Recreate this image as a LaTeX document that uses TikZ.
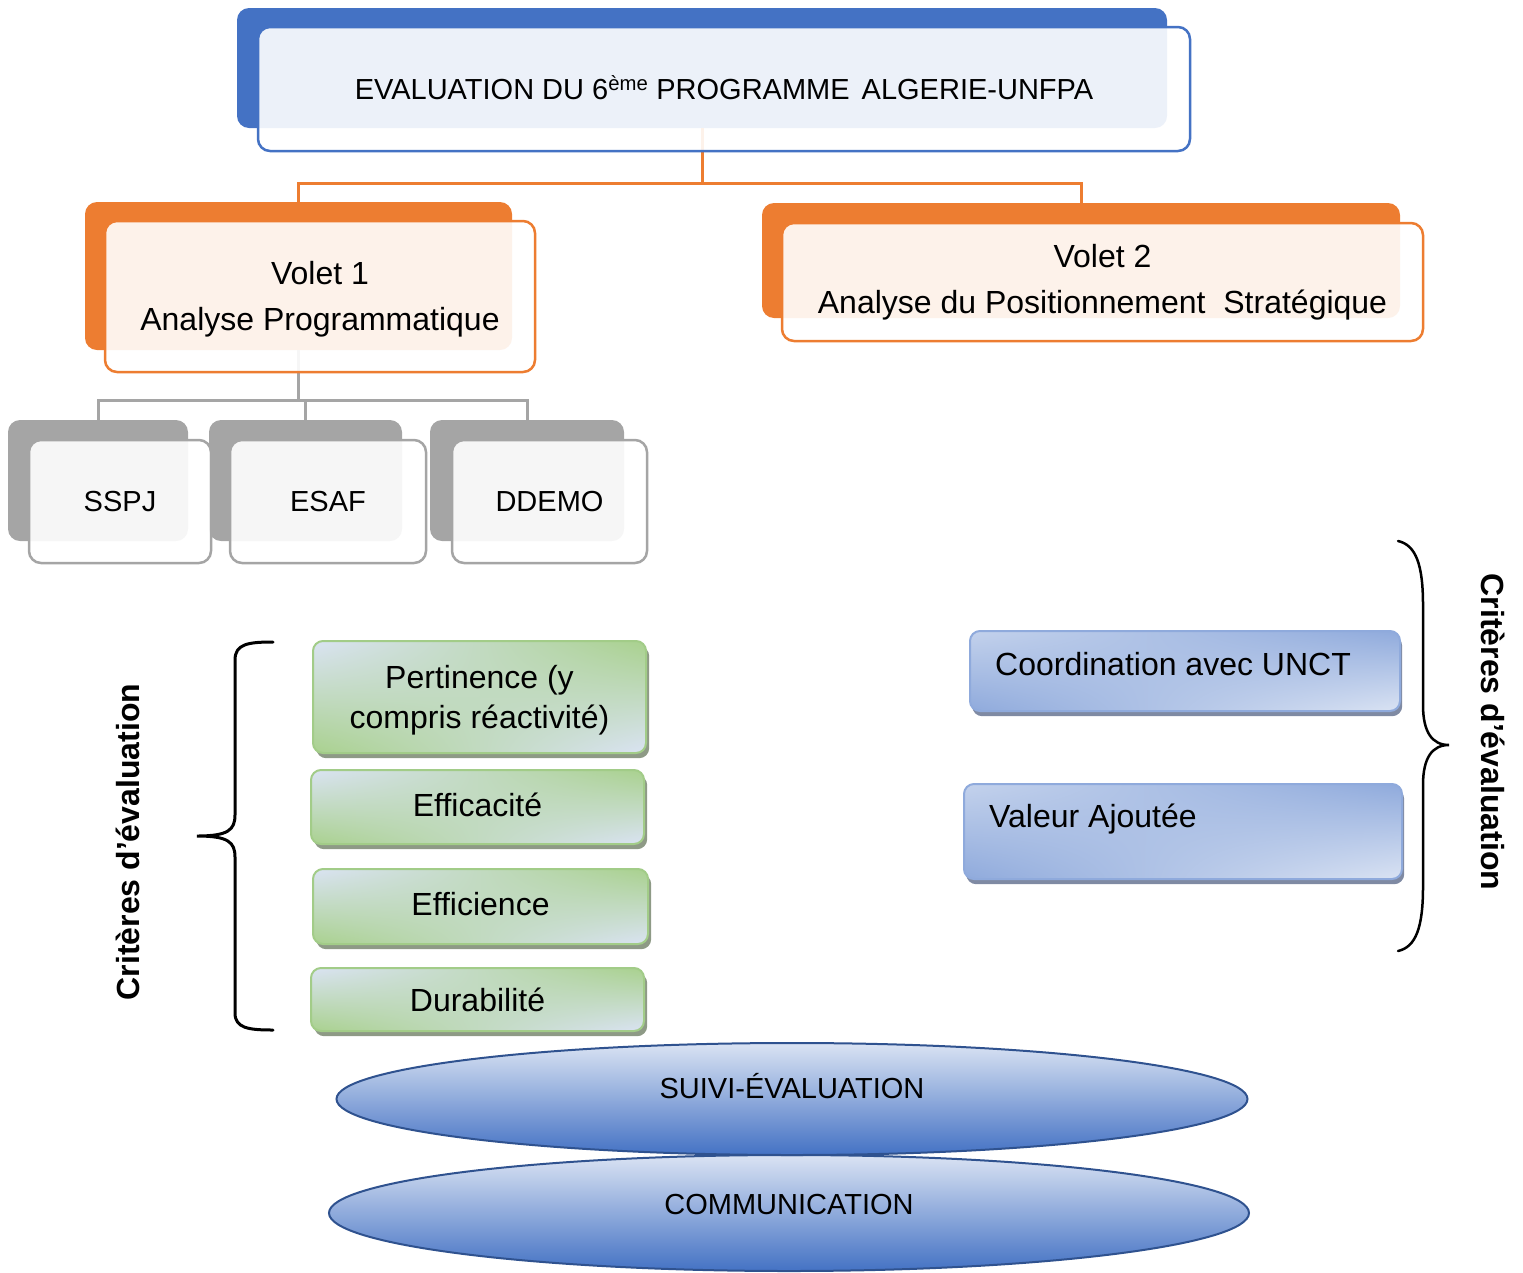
\documentclass[tikz,border=0pt]{standalone}
\usepackage{fontspec}
\setmainfont{Liberation Sans}
\usetikzlibrary{shapes.geometric,shadings}
\definecolor{cblue}{HTML}{4472C4}
\definecolor{corange}{HTML}{ED7D31}
\definecolor{cgray}{HTML}{A5A5A5}
\definecolor{cgreen}{HTML}{A9D18E}
\definecolor{cgreenline}{HTML}{A2CC88}
\definecolor{clight}{HTML}{DAE3F3}
\definecolor{cmidblue}{HTML}{8FAADC}
\definecolor{cmid}{HTML}{B8C8E9}
\definecolor{cnavy}{HTML}{2F528F}
\definecolor{gshadow}{HTML}{8E9A86}
\definecolor{bshadow}{HTML}{7F8AA3}
\newcommand\fsA{\fontsize{29}{35}\selectfont}
\newcommand\fsB{\fontsize{32}{40}\selectfont}
\newcommand\fsV{\fontsize{32}{46}\selectfont}
\begin{document}
\begin{tikzpicture}[x=1pt,y=-1pt,
  backbox/.style={fill=#1, rounded corners=12pt, inner sep=0pt, outer sep=0pt, anchor=north west},
  frontbox/.style={draw=#1, line width=2.5pt, fill=white, fill opacity=0.9, text opacity=1,
    rounded corners=12pt, inner sep=0pt, outer sep=0pt, anchor=north west, align=center},
  shadowbox/.style={fill=#1, rounded corners=10pt, inner sep=0pt, anchor=north west},
  greenbox/.style={upper left=clight, lower right=clight, upper right=cgreen, lower left=cgreen,
    draw=cgreenline, line width=2pt, rounded corners=10pt, inner sep=0pt, anchor=north west,
    align=center, font=\fsB},
  bluebox/.style={upper left=clight!70!cmidblue, lower right=clight, upper right=cmidblue, lower left=cmidblue,
    draw=cmidblue, line width=2pt, rounded corners=10pt, inner sep=0pt, anchor=north west},
  oval/.style={ellipse, draw=cnavy, line width=2pt, top color=clight, middle color=cmid,
    bottom color=cblue, inner sep=0pt},
  oline/.style={draw=corange, line width=3pt},
  gline/.style={draw=cgray, line width=3pt},
  brace/.style={draw=black, line width=3pt, line cap=round}
]
\useasboundingbox (0,0) rectangle (1523,1272);

% back boxes
\node[backbox=cblue, minimum width=930, minimum height=120] (topb) at (237,8) {};
\node[backbox=corange, minimum width=427, minimum height=148] (v1b) at (85,202) {};
\node[backbox=corange, minimum width=638, minimum height=115] (v2b) at (762,203) {};
\node[backbox=cgray, minimum width=180, minimum height=121] (g1b) at (8,420) {};
\node[backbox=cgray, minimum width=193, minimum height=121] (g2b) at (209,420) {};
\node[backbox=cgray, minimum width=194, minimum height=121] (g3b) at (430,420) {};

% connectors
\draw[oline] (topb.south) -- ++(0,55) coordinate (j1);
\draw[oline] (j1) -| (v1b.north);
\draw[oline] (j1) -| (v2b.north);
\draw[gline] (v1b.south) -- ++(0,50) coordinate (j2);
\draw[gline] (j2) -| (g1b.north);
\draw[gline] (j2) -| (g2b.north);
\draw[gline] (j2) -| (g3b.north);

% front boxes
\node[frontbox=cblue, minimum width=932, minimum height=124, font=\fsA] (top) at (258,27)
  {\raisebox{1pt}[\height][\depth]{EVALUATION DU 6\textsuperscript{ème} PROGRAMME\hspace{12pt}ALGERIE-UNFPA}};
\node[frontbox=corange, minimum width=430, minimum height=151, font=\fsV] (v1) at (105,221)
  {\raisebox{-2pt}[\height][\depth]{\begin{tabular}{@{}c@{}}Volet 1\\Analyse Programmatique\end{tabular}}};
\node[frontbox=corange, minimum width=641, minimum height=118, font=\fsV] (v2) at (782,223)
  {Volet 2\\Analyse du Positionnement\ \ Stratégique};
\node[frontbox=cgray, minimum width=182, minimum height=123, font=\fsA] (g1) at (29,440) {SSPJ};
\node[frontbox=cgray, minimum width=196, minimum height=123, font=\fsA] (g2) at (230,440) {ESAF};
\node[frontbox=cgray, minimum width=195, minimum height=123, font=\fsA] (g3) at (452,440) {DDEMO};

% green criteria
\node[shadowbox=gshadow, minimum width=333, minimum height=112] (c1s) at (316,646) {};
\node[greenbox, minimum width=333, minimum height=112] (c1) at (312,640)
  {\raisebox{-3pt}[\height][\depth]{\begin{tabular}{@{}c@{}}Pertinence (y\\compris réactivité)\end{tabular}}};
\node[shadowbox=gshadow, minimum width=333, minimum height=74] (c2s) at (314,775) {};
\node[greenbox, minimum width=333, minimum height=74] (c2) at (310,769) {\raisebox{2pt}[\height][\depth]{Efficacité}};
\node[shadowbox=gshadow, minimum width=335, minimum height=75] (c3s) at (316,874) {};
\node[greenbox, minimum width=335, minimum height=75] (c3) at (312,868) {\raisebox{2pt}[\height][\depth]{Efficience}};
\node[shadowbox=gshadow, minimum width=333, minimum height=63] (c4s) at (314,973) {};
\node[greenbox, minimum width=333, minimum height=63] (c4) at (310,967) {Durabilité};

% blue criteria
\node[shadowbox=bshadow, minimum width=430, minimum height=80] (b1s) at (972,636) {};
\node[bluebox, minimum width=430, minimum height=80] (b1) at (969,630) {};
\node[anchor=west, inner sep=0pt, font=\fsB] (b1t) at (995,664) {Coordination avec UNCT};
\node[shadowbox=bshadow, minimum width=438, minimum height=95] (b2s) at (966,789) {};
\node[bluebox, minimum width=438, minimum height=95] (b2) at (963,783) {};
\node[anchor=west, inner sep=0pt, font=\fsB] (b2t) at (989,819) {Valeur Ajoutée};

% braces
\draw[brace] (273,642) .. controls (248,642) and (235,644) .. (235,660) -- (235,815)
  .. controls (235,830) and (228,836) .. (197,836)
  .. controls (228,836) and (235,842) .. (235,857) -- (235,1013)
  .. controls (235,1028) and (248,1030) .. (273,1030);
\draw[brace, line width=2.5pt] (1398,541) .. controls (1416,545) and (1423,565) .. (1423,605) -- (1423,705)
  .. controls (1423,732) and (1432,745) .. (1449,745)
  .. controls (1432,745) and (1423,758) .. (1423,785) -- (1423,887)
  .. controls (1423,927) and (1416,947) .. (1398,951);

% side labels
\node[rotate=90, font=\fsB\bfseries] (cl) at (128,842) {Critères d’évaluation};
\node[rotate=-90, font=\fsB\bfseries] (cr) at (1493,732) {Critères d’évaluation};

% ovals
\node[oval, minimum width=920, minimum height=116] (o2) at (789,1213) {};
\node[oval, minimum width=911, minimum height=112] (o1) at (792,1099) {};
\node[font=\fsA, inner sep=0pt] (o1t) at (792,1086) {SUIVI-ÉVALUATION};
\node[font=\fsA, inner sep=0pt] (o2t) at (789,1204) {COMMUNICATION};
\end{tikzpicture}
\end{document}
